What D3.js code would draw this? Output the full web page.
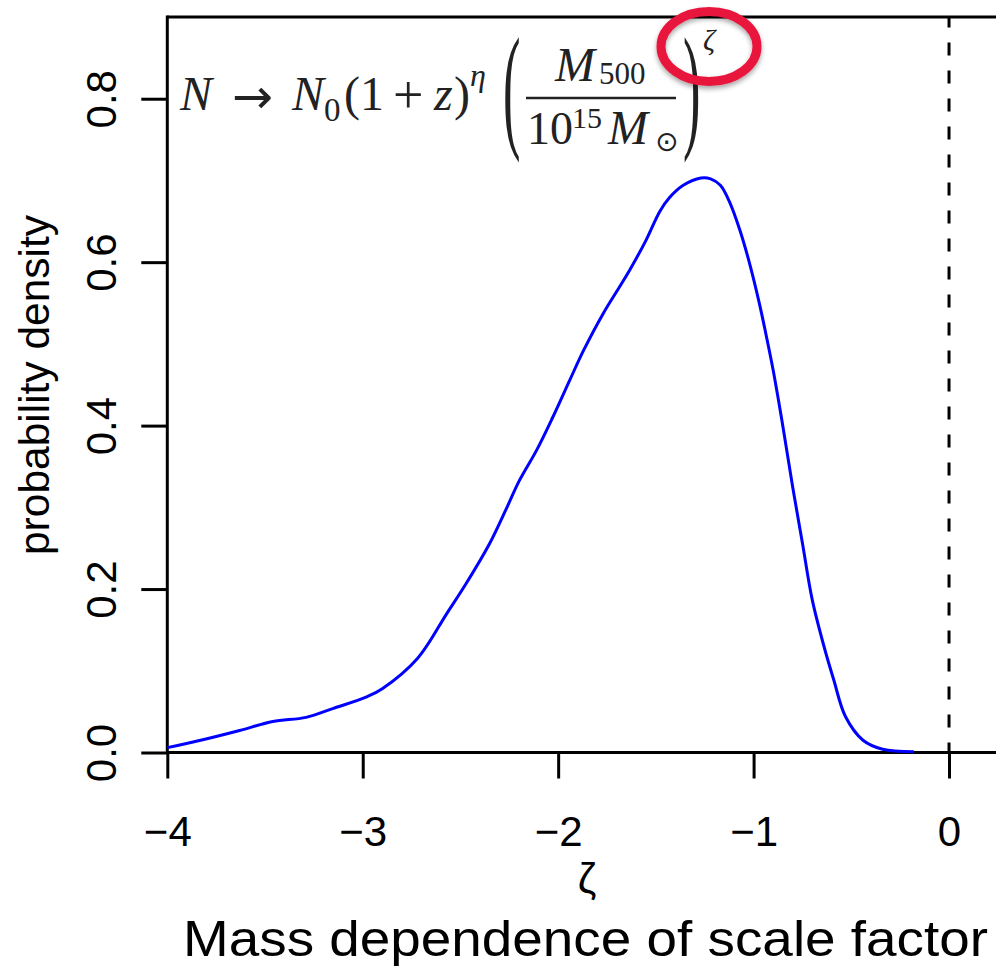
<!DOCTYPE html>
<html>
<head>
<meta charset="utf-8">
<script src="https://cdn.jsdelivr.net/npm/d3@7"></script>
<style>
  html, body { margin: 0; padding: 0; background: #fff; }
  svg { display: block; }
</style>
</head>
<body>
<svg id="chart" width="996" height="966"></svg>
<script>
// Posterior density of the mass-dependence exponent zeta
const zeta = [-4.00, -3.83, -3.63, -3.46, -3.29, -3.15, -2.98, -2.90, -2.72, -2.57,
              -2.47, -2.35, -2.26, -2.20, -2.11, -2.03, -1.94, -1.87, -1.77, -1.68,
              -1.63, -1.55, -1.48, -1.43, -1.36, -1.27, -1.22, -1.17, -1.12, -1.07,
              -1.02, -0.97, -0.93, -0.90, -0.85, -0.80, -0.75, -0.70, -0.64, -0.59,
              -0.53, -0.44, -0.34, -0.18];
const density = [0.006, 0.015, 0.027, 0.038, 0.043, 0.054, 0.068, 0.078, 0.115, 0.170,
                 0.207, 0.256, 0.301, 0.332, 0.370, 0.409, 0.456, 0.492, 0.537, 0.572,
                 0.592, 0.627, 0.662, 0.679, 0.694, 0.703, 0.702, 0.694, 0.672, 0.639,
                 0.598, 0.549, 0.504, 0.468, 0.399, 0.325, 0.256, 0.187, 0.130, 0.089,
                 0.044, 0.015, 0.004, 0.001];
const xTicks = [-4, -3, -2, -1, 0];
const yTicks = [0.0, 0.2, 0.4, 0.6, 0.8];
const refLine = 0;

const W = 996, H = 966;
const plotLeft = 167.3, plotTop = 17, plotBottom = 752.5;
const unit = 195.43;
const svg = d3.select("#chart");
const sans = "'Liberation Sans', Arial, Helvetica, sans-serif";
const serif = "'Liberation Serif', 'Times New Roman', 'DejaVu Serif', serif";

const x = d3.scaleLinear().domain([-4, 0.24]).range([plotLeft, plotLeft + 4.24 * unit]);
const y = d3.scaleLinear().domain([0, 0.9]).range([plotBottom, plotTop]);

// x axis
const gx = svg.append("g").attr("transform", `translate(0,${plotBottom})`)
  .call(d3.axisBottom(x).tickValues(xTicks).tickSize(26).tickSizeOuter(0)
        .tickFormat(d => d < 0 ? "\u2212" + Math.abs(d) : String(d)));
gx.select(".domain").remove();
gx.selectAll(".tick line").attr("stroke", "#000").attr("stroke-width", 3);
gx.selectAll(".tick text")
  .attr("y", 846 - plotBottom).attr("dy", null)
  .attr("font-family", sans).attr("font-size", 42).attr("fill", "#000");

// y axis
const gy = svg.append("g").attr("transform", `translate(${plotLeft},0)`)
  .call(d3.axisLeft(y).tickValues(yTicks).tickSize(26).tickSizeOuter(0)
        .tickFormat(d3.format(".1f")));
gy.select(".domain").remove();
gy.selectAll(".tick line").attr("stroke", "#000").attr("stroke-width", 3);
gy.selectAll(".tick text")
  .attr("x", null).attr("y", null).attr("dy", null)
  .attr("transform", `translate(${116 - plotLeft},0) rotate(-90)`)
  .attr("text-anchor", "middle")
  .attr("font-family", sans).attr("font-size", 42).attr("fill", "#000");

// plot frame (left, top, bottom; right edge lies beyond the canvas)
const frame = svg.append("g").attr("stroke", "#000").attr("stroke-width", 3).attr("fill", "none");
frame.append("line").attr("x1", plotLeft).attr("x2", plotLeft).attr("y1", plotTop - 1.5).attr("y2", plotBottom + 1.5);
frame.append("line").attr("x1", plotLeft).attr("x2", W + 5).attr("y1", plotTop).attr("y2", plotTop);
frame.append("line").attr("x1", plotLeft).attr("x2", W + 5).attr("y1", plotBottom).attr("y2", plotBottom);

// vertical reference line at zeta = 0
svg.append("line")
  .attr("x1", x(refLine)).attr("x2", x(refLine))
  .attr("y1", plotBottom).attr("y2", plotTop)
  .attr("stroke", "#000").attr("stroke-width", 3)
  .attr("stroke-dasharray", "13 15").attr("stroke-dashoffset", 3);

// density curve
const pts = zeta.map((z, i) => [z, density[i]]);
svg.append("path")
  .datum(pts)
  .attr("fill", "none").attr("stroke", "#0000ff").attr("stroke-width", 3)
  .attr("stroke-linejoin", "round")
  .attr("d", d3.line().x(d => x(d[0])).y(d => y(d[1])).curve(d3.curveCatmullRom.alpha(0.5)));

// axis titles
svg.append("text")
  .attr("transform", "translate(49,385) rotate(-90)")
  .attr("text-anchor", "middle")
  .attr("font-family", sans).attr("font-size", 42)
  .attr("textLength", 340).attr("lengthAdjust", "spacingAndGlyphs")
  .text("probability density");

svg.append("text")
  .attr("x", 587).attr("y", 893)
  .attr("text-anchor", "middle")
  .attr("font-family", sans).attr("font-size", 42)
  .text("\u03B6");

svg.append("text")
  .attr("x", 183).attr("y", 956)
  .attr("font-family", sans).attr("font-size", 50)
  .attr("textLength", 805).attr("lengthAdjust", "spacingAndGlyphs")
  .text("Mass dependence of scale factor");

// scaling relation drawn as typeset pieces
const eq = svg.append("g").attr("fill", "#222").attr("font-family", serif);
function piece(str, px, py, size, italic) {
  return eq.append("text").attr("x", px).attr("y", py)
    .attr("font-size", size).attr("font-style", italic ? "italic" : "normal").text(str);
}
piece("N", 180, 110, 48, true);
piece("\u2192", 232, 113, 48, false)
  .attr("font-family", "'DejaVu Sans', sans-serif")
  .attr("textLength", 41).attr("lengthAdjust", "spacingAndGlyphs");
piece("N", 292, 110, 48, true);
piece("0", 324, 121, 33, false);
piece("(", 344, 110, 48, false);
piece("1", 360, 110, 48, false);
piece("+", 393, 113, 54, false);
piece("z", 434, 110, 48, true);
piece(")", 454, 110, 48, false);
piece("\u03B7", 470, 86, 32, true);
// large delimiters
eq.append("text").attr("transform", "translate(503,133) scale(0.38,1)")
  .attr("font-size", 138).text("(");
eq.append("text").attr("transform", "translate(683,133) scale(0.38,1)")
  .attr("font-size", 138).text(")");
// numerator
piece("M", 555, 81, 48, true);
piece("500", 599, 84, 31, false);
// fraction bar
eq.append("line").attr("x1", 526).attr("x2", 676).attr("y1", 98).attr("y2", 98)
  .attr("stroke", "#222").attr("stroke-width", 2.5);
// denominator
piece("10", 527, 144, 46, false);
piece("15", 572, 128, 30, false);
piece("M", 608, 144, 48, true);
eq.append("text").attr("x", 655).attr("y", 151).attr("font-size", 28)
  .attr("font-family", "'DejaVu Sans', sans-serif").text("\u2299");
piece("\u03B6", 703, 50, 30, true);

// highlight ring around the exponent
const defs = svg.append("defs");
const f = defs.append("filter").attr("id", "ringShadow")
  .attr("x", "-30%").attr("y", "-30%").attr("width", "160%").attr("height", "160%");
f.append("feDropShadow").attr("dx", 0).attr("dy", 3).attr("stdDeviation", 2.5)
  .attr("flood-color", "#000").attr("flood-opacity", 0.35);
svg.append("ellipse")
  .attr("cx", 709).attr("cy", 46.5).attr("rx", 48).attr("ry", 35)
  .attr("fill", "none").attr("stroke", "#e8173c").attr("stroke-width", 9)
  .attr("filter", "url(#ringShadow)");
</script>
</body>
</html>
